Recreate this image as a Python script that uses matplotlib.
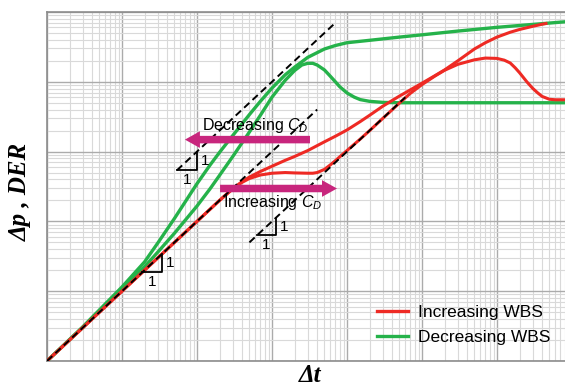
import numpy as np
import matplotlib
matplotlib.use("Agg")
import matplotlib.pyplot as plt
from matplotlib.ticker import LogLocator, NullFormatter
from matplotlib.patches import FancyArrowPatch

plt.rcParams['font.family'] = ['Liberation Sans', 'DejaVu Sans']
plt.rcParams['mathtext.fontset'] = 'custom'
plt.rcParams['mathtext.rm'] = 'Liberation Sans'
plt.rcParams['mathtext.it'] = 'Liberation Sans:italic'

RED = '#ee2a24'
GREEN = '#25b24a'
MAGENTA = '#c8267d'

# decreasing WBS: pressure and derivative
t_dec_p = [1, 3, 10, 20, 30, 50, 100, 150, 200, 300, 500, 700, 1000, 1500, 2000,
           3000, 5000, 7000, 1e4, 2e4, 5e4, 1e5, 3e5, 1e6, 3e6, 8.07e6]
p_dec_p = [1.0, 3.09, 11.5, 26.3, 49.0, 110, 347, 646, 977, 1700, 3390, 5250, 8130,
           12600, 16200, 22400, 29500, 33100, 36300, 39300, 43700, 47100, 53300,
           60300, 66400, 72400]

t_dec_d = [1, 3, 10, 20, 30, 50, 100, 150, 200, 300, 500, 700, 1000, 1500, 2000,
           2500, 3000, 3500, 4000, 5000, 6000, 7000, 8000, 1e4, 1.25e4, 1.5e4, 2e4,
           3e4, 5e4, 8.07e6]
p_dec_d = [1.0, 3.02, 11.0, 22.4, 36.3, 67.6, 166, 295, 457, 851, 1910, 3310, 6030,
           10500, 14500, 17400, 18400, 18400, 17400, 14800, 12000, 10000, 8510, 6920,
           6030, 5560, 5250, 5070, 5010, 5010]

# increasing WBS: pressure and derivative
t_inc_p = [1, 10, 100, 200, 300, 400, 500, 700, 1000, 1500, 2000, 3000, 5000, 7000,
           1e4, 1.5e4, 2e4, 3e4, 5e4, 7e4, 1e5, 1.5e5, 2e5, 3e5, 5e5, 7e5, 1e6,
           1.5e6, 2e6, 3e6, 4e6, 4.5e6]
p_inc_p = [1.0, 10, 100, 200, 295, 372, 432, 519, 617, 750, 851, 1035, 1380, 1660,
           2040, 2690, 3310, 4470, 6240, 7670, 9550, 12300, 14800, 19950, 29500,
           36300, 43700, 51300, 56200, 62400, 66800, 68400]

t_inc_d = [1, 10, 100, 200, 300, 400, 500, 700, 1000, 1500, 2000, 3000, 3500, 4000,
           5000, 6000, 7000, 8000, 1e4, 1.5e4, 2e4, 3e4, 5e4, 7e4, 1e5, 1.5e5, 2e5,
           3e5, 5e5, 7e5, 1e6, 1.25e6, 1.5e6, 1.75e6, 2e6, 2.5e6, 3e6, 3.5e6, 4e6,
           5e6, 6e6, 8.07e6]
p_inc_d = [1.0, 10, 100, 200, 292, 363, 412, 462, 490, 501, 495, 490, 490, 501, 556,
           646, 741, 841, 1035, 1510, 1995, 2990, 4955, 6840, 9120, 12160, 14620,
           17780, 20650, 21880, 21630, 20420, 18620, 15850, 13490, 10000, 8040, 6920,
           6170, 5620, 5530, 5530]

# unit-slope guide lines (start, end) and their slope triangles
guide_t = [(1, 4000), (54, 6600), (500, 60000)]
guide_c = [1, 10, 0.1]
tri_t = [(18.6, 33.9), (54, 100), (630, 1120)]

fig = plt.figure(figsize=(5.65, 3.85), dpi=100)
ax = fig.add_axes([47 / 565, 24 / 385, 518 / 565, 349 / 385])
ax.set_xscale('log')
ax.set_yscale('log')
ax.set_xlim(1, 8.07e6)
ax.set_ylim(1, 1e5)

for axis in (ax.xaxis, ax.yaxis):
    axis.set_major_locator(LogLocator(base=10, numticks=20))
    axis.set_minor_locator(LogLocator(base=10, subs=np.arange(2, 10), numticks=20))
    axis.set_minor_formatter(NullFormatter())
ax.grid(which='major', color='#ababab', lw=1.0)
ax.grid(which='minor', color='#d9d9d9', lw=0.8)
ax.set_axisbelow(True)
ax.tick_params(which='both', length=0, labelbottom=False, labelleft=False)
for s in ('left', 'bottom', 'top'):
    ax.spines[s].set_color('#8c8c8c')
    ax.spines[s].set_linewidth(1.2)
ax.spines['right'].set_visible(False)

ax.plot(t_dec_p, p_dec_p, color=GREEN, lw=2.4, zorder=3)
ax.plot(t_dec_d, p_dec_d, color=GREEN, lw=2.4, zorder=3)
ax.plot(t_inc_p, p_inc_p, color=RED, lw=2.2, zorder=4)
ax.plot(t_inc_d, p_inc_d, color=RED, lw=2.2, zorder=4)

for (ta, tb), c in zip(guide_t, guide_c):
    ax.plot([ta, tb], [c * ta, c * tb], color='black', lw=1.4,
            ls=(0, (3.7, 2.2)), zorder=5)

for (ta, tb), c in zip(tri_t, guide_c):
    ax.plot([ta, tb, tb], [c * ta, c * ta, c * tb], color='black', lw=1.3, zorder=5)
    ax.annotate('1', (tb, c * (ta * tb) ** 0.5), xytext=(3, 0),
                textcoords='offset points', ha='left', va='center', fontsize=11)
    ax.annotate('1', ((ta * tb) ** 0.5, c * ta), xytext=(0, -2),
                textcoords='offset points', ha='center', va='top', fontsize=11)

ax.add_patch(FancyArrowPatch((3210, 1485), (69, 1485), arrowstyle=
             'simple,head_length=0.9,head_width=1.0,tail_width=0.45',
             mutation_scale=12, color=MAGENTA, lw=0, zorder=6,
             shrinkA=0, shrinkB=0))
ax.add_patch(FancyArrowPatch((203, 296), (7360, 296), arrowstyle=
             'simple,head_length=0.9,head_width=1.0,tail_width=0.45',
             mutation_scale=12, color=MAGENTA, lw=0, zorder=6,
             shrinkA=0, shrinkB=0))
ax.text(117, 2350, 'Decreasing $C_D$', fontsize=11.5, ha='left', va='center', zorder=7)
ax.text(222, 187, 'Increasing $C_D$', fontsize=11.5, ha='left', va='center', zorder=7)

h1, = ax.plot([], [], color=RED, lw=2.4)
h2, = ax.plot([], [], color=GREEN, lw=2.4)
ax.legend([h1, h2], ['Increasing WBS', 'Decreasing WBS'], loc='center left',
          bbox_to_anchor=(377 / 565, 60 / 385), bbox_transform=fig.transFigure,
          frameon=False, prop={'family': 'Liberation Sans', 'size': 12.5},
          handlelength=1.8, handletextpad=0.55, labelspacing=0.55,
          borderpad=0, borderaxespad=0)

fig.text(20 / 565, (385 - 192) / 385, '\u0394p , DER', rotation=90, ha='center',
         va='center', fontsize=18, family='Liberation Serif', weight='bold',
         style='italic')
fig.text(310 / 565, 10 / 385, '\u0394t', ha='center', va='center', fontsize=18,
         family='Liberation Serif', weight='bold', style='italic')

fig.savefig('out.png', dpi=100)
